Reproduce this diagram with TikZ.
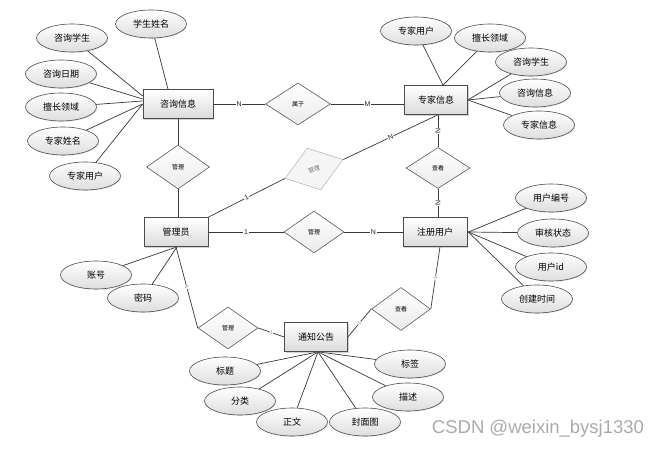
\documentclass[tikz,border=0pt]{standalone}
\usepackage{fontspec}
\setmainfont{Liberation Sans}
\newfontfamily\cjk{Noto Sans CJK SC}
\usetikzlibrary{shapes.geometric,shadows,calc}
\pgfdeclarelayer{bg}
\pgfsetlayers{bg,main}
\begin{document}
\begin{tikzpicture}[x=1pt,y=-1pt,
  ent/.style={draw=black!70, line width=0.7pt, rectangle, minimum width=64, minimum height=29, inner sep=0pt,
    top color=white, bottom color=black!14,
    drop shadow={shadow xshift=1.3pt, shadow yshift=-1.3pt, opacity=0.35},
    font=\cjk\fontsize{9}{10}\selectfont},
  attr/.style={draw=black!70, line width=0.6pt, ellipse, minimum width=71, minimum height=28, inner sep=0pt,
    top color=white, bottom color=black!13,
    drop shadow={shadow xshift=0.8pt, shadow yshift=-0.8pt, opacity=0.2},
    font=\cjk\fontsize{9}{10}\selectfont},
  rel/.style={draw=black!65, line width=0.6pt, diamond, minimum width=63, minimum height=42, inner sep=0pt,
    top color=white, bottom color=black!8,
    font=\cjk\fontsize{6}{7}\selectfont},
  ghost/.style={draw=black!30, line width=0.5pt, diamond, minimum width=61, minimum height=44, inner sep=0pt,
    fill=black!4, text=black!55, font=\cjk\fontsize{6}{7}\selectfont},
  ln/.style={draw=black!78, line width=0.7pt},
  lbl/.style={fill=white, inner sep=0.6pt, text=black!85, font=\fontsize{7}{8}\selectfont},
  tinylbl/.style={fill=white, inner sep=0.3pt, text=black!50, font=\fontsize{5}{5}\selectfont}
]
\useasboundingbox (0,0) rectangle (662,449);

% entities
\node[ent, minimum width=70] (zx) at (178,104) {咨询信息};
\node[ent, minimum width=63] (zj) at (436,100) {专家信息};
\node[ent] (admin) at (176,232) {管理员};
\node[ent] (zc) at (435,232) {注册用户};
\node[ent, minimum width=63] (tz) at (316,337) {通知公告};

% attributes of 咨询信息
\node[attr] (a1) at (151,24) {学生姓名};
\node[attr] (a2) at (72,38) {咨询学生};
\node[attr] (a3) at (61,74) {咨询日期};
\node[attr] (a4) at (61,107) {擅长领域};
\node[attr] (a5) at (63,141) {专家姓名};
\node[attr] (a6) at (85,176) {专家用户};
% attributes of 专家信息
\node[attr] (b1) at (416,31) {专家用户};
\node[attr] (b2) at (490,38) {擅长领域};
\node[attr] (b3) at (531,62) {咨询学生};
\node[attr] (b4) at (535,93) {咨询信息};
\node[attr] (b5) at (539,125) {专家信息};
% attributes of 注册用户
\node[attr] (c1) at (551,198) {用户编号};
\node[attr] (c2) at (553,233) {审核状态};
\node[attr] (c3) at (551,267) {用户id};
\node[attr] (c4) at (537,299) {创建时间};
% attributes of 管理员
\node[attr] (d1) at (96,275) {账号};
\node[attr] (d2) at (143,298) {密码};
% attributes of 通知公告
\node[attr] (e1) at (225,371) {标题};
\node[attr] (e2) at (240,401) {分类};
\node[attr] (e3) at (292,422) {正文};
\node[attr] (e4) at (365,422) {封面图};
\node[attr] (e5) at (410,364) {标签};
\node[attr] (e6) at (408,397) {描述};

% relations
\node[rel, minimum width=65] (sy) at (298,104) {属于};
\node[rel, minimum height=44] (gl1) at (178,167) {管理};
\node[rel, minimum width=64, minimum height=41] (ck1) at (438,168) {查看};
\node[rel, minimum width=60] (gl2) at (314,232) {管理};
\node[rel, minimum width=60] (gl3) at (228,328) {管理};
\node[rel, minimum width=59, minimum height=43] (ck2) at (401,309) {查看};
\node[ghost, rotate=18] (gv) at (314,169) {管理};

\begin{pgfonlayer}{bg}
\fill[white] (0,0) rectangle (662,449);
% attribute lines
\draw[ln] (a1) -- ($(zx.north)+(-10,0)$);
\draw[ln] (a2) -- ($(zx.west)+(0,-8)$);
\draw[ln] (a3) -- ($(zx.west)+(0,-5)$);
\draw[ln] (a4) -- ($(zx.west)+(0,-3)$);
\draw[ln] (a5) -- (zx.west);
\draw[ln] (a6) -- (zx.west);
\draw[ln] (b1) -- ($(zj.north)+(7,0)$);
\draw[ln] (b2) -- ($(zj.north)+(7,0)$);
\draw[ln] (b3) -- (zj.east);
\draw[ln] (b4) -- (zj.east);
\draw[ln] (b5) -- (zj.east);
\draw[ln] (c1) -- ($(zc.east)+(1,0)$);
\draw[ln] (c2) -- ($(zc.east)+(1,0)$);
\draw[ln] (c3) -- ($(zc.east)+(1,0)$);
\draw[ln] (c4) -- ($(zc.east)+(1,0)$);
\draw[ln] (d1) -- ($(admin.south)+(1,0)$);
\draw[ln] (d2) -- ($(admin.south)+(1,0)$);
\draw[ln] (e1) -- ($(tz.south)+(2,0)$);
\draw[ln] (e2) -- ($(tz.south)+(2,0)$);
\draw[ln] (e3) -- ($(tz.south)+(2,0)$);
\draw[ln] (e4) -- ($(tz.south)+(2,0)$);
\draw[ln] (e5) -- ($(tz.south)+(2,0)$);
\draw[ln] (e6) -- ($(tz.south)+(2,0)$);

% relation lines
\draw[ln] (zx.east) -- node[lbl]{N} (sy.west);
\draw[ln] (sy.east) -- node[lbl]{M} (sy.east -| zj.west);
\draw[ln] (zx.south) -- (gl1.north);
\draw[ln] (gl1.south) -- (gl1.south |- admin.north);
\draw[ln] (ck1.north |- zj.south) -- node[lbl, rotate=90]{N} (ck1.north);
\draw[ln] (ck1.south) -- node[lbl, rotate=90]{N} (ck1.south |- zc.north);
\draw[ln] (admin.east) -- node[lbl]{1} (gl2.west);
\draw[ln] (gl2.east) -- node[lbl]{N} (zc.west);
\draw[ln] (admin.north east) -- node[lbl, sloped]{1} (gv.west);
\draw[ln] (gv.east) -- node[lbl, sloped]{N} ($(zj.south)+(2,0)$);
\draw[ln] (admin.south) -- node[tinylbl, sloped]{1} (gl3.west);
\draw[ln] (gl3.east) -- node[tinylbl, sloped]{1} (tz.west);
\draw[ln] (tz.east) -- node[tinylbl, sloped]{1} (ck2.west);
\draw[ln] (ck2.east) -- node[tinylbl, sloped]{1} ($(zc.south)+(5,0)$);
\end{pgfonlayer}

% watermark
\node[text=black!33, font=\fontsize{18.5}{20}\selectfont, inner sep=0pt] (wm) at (538,429) {CSDN @weixin\_bysj1330};
\end{tikzpicture}
\end{document}
